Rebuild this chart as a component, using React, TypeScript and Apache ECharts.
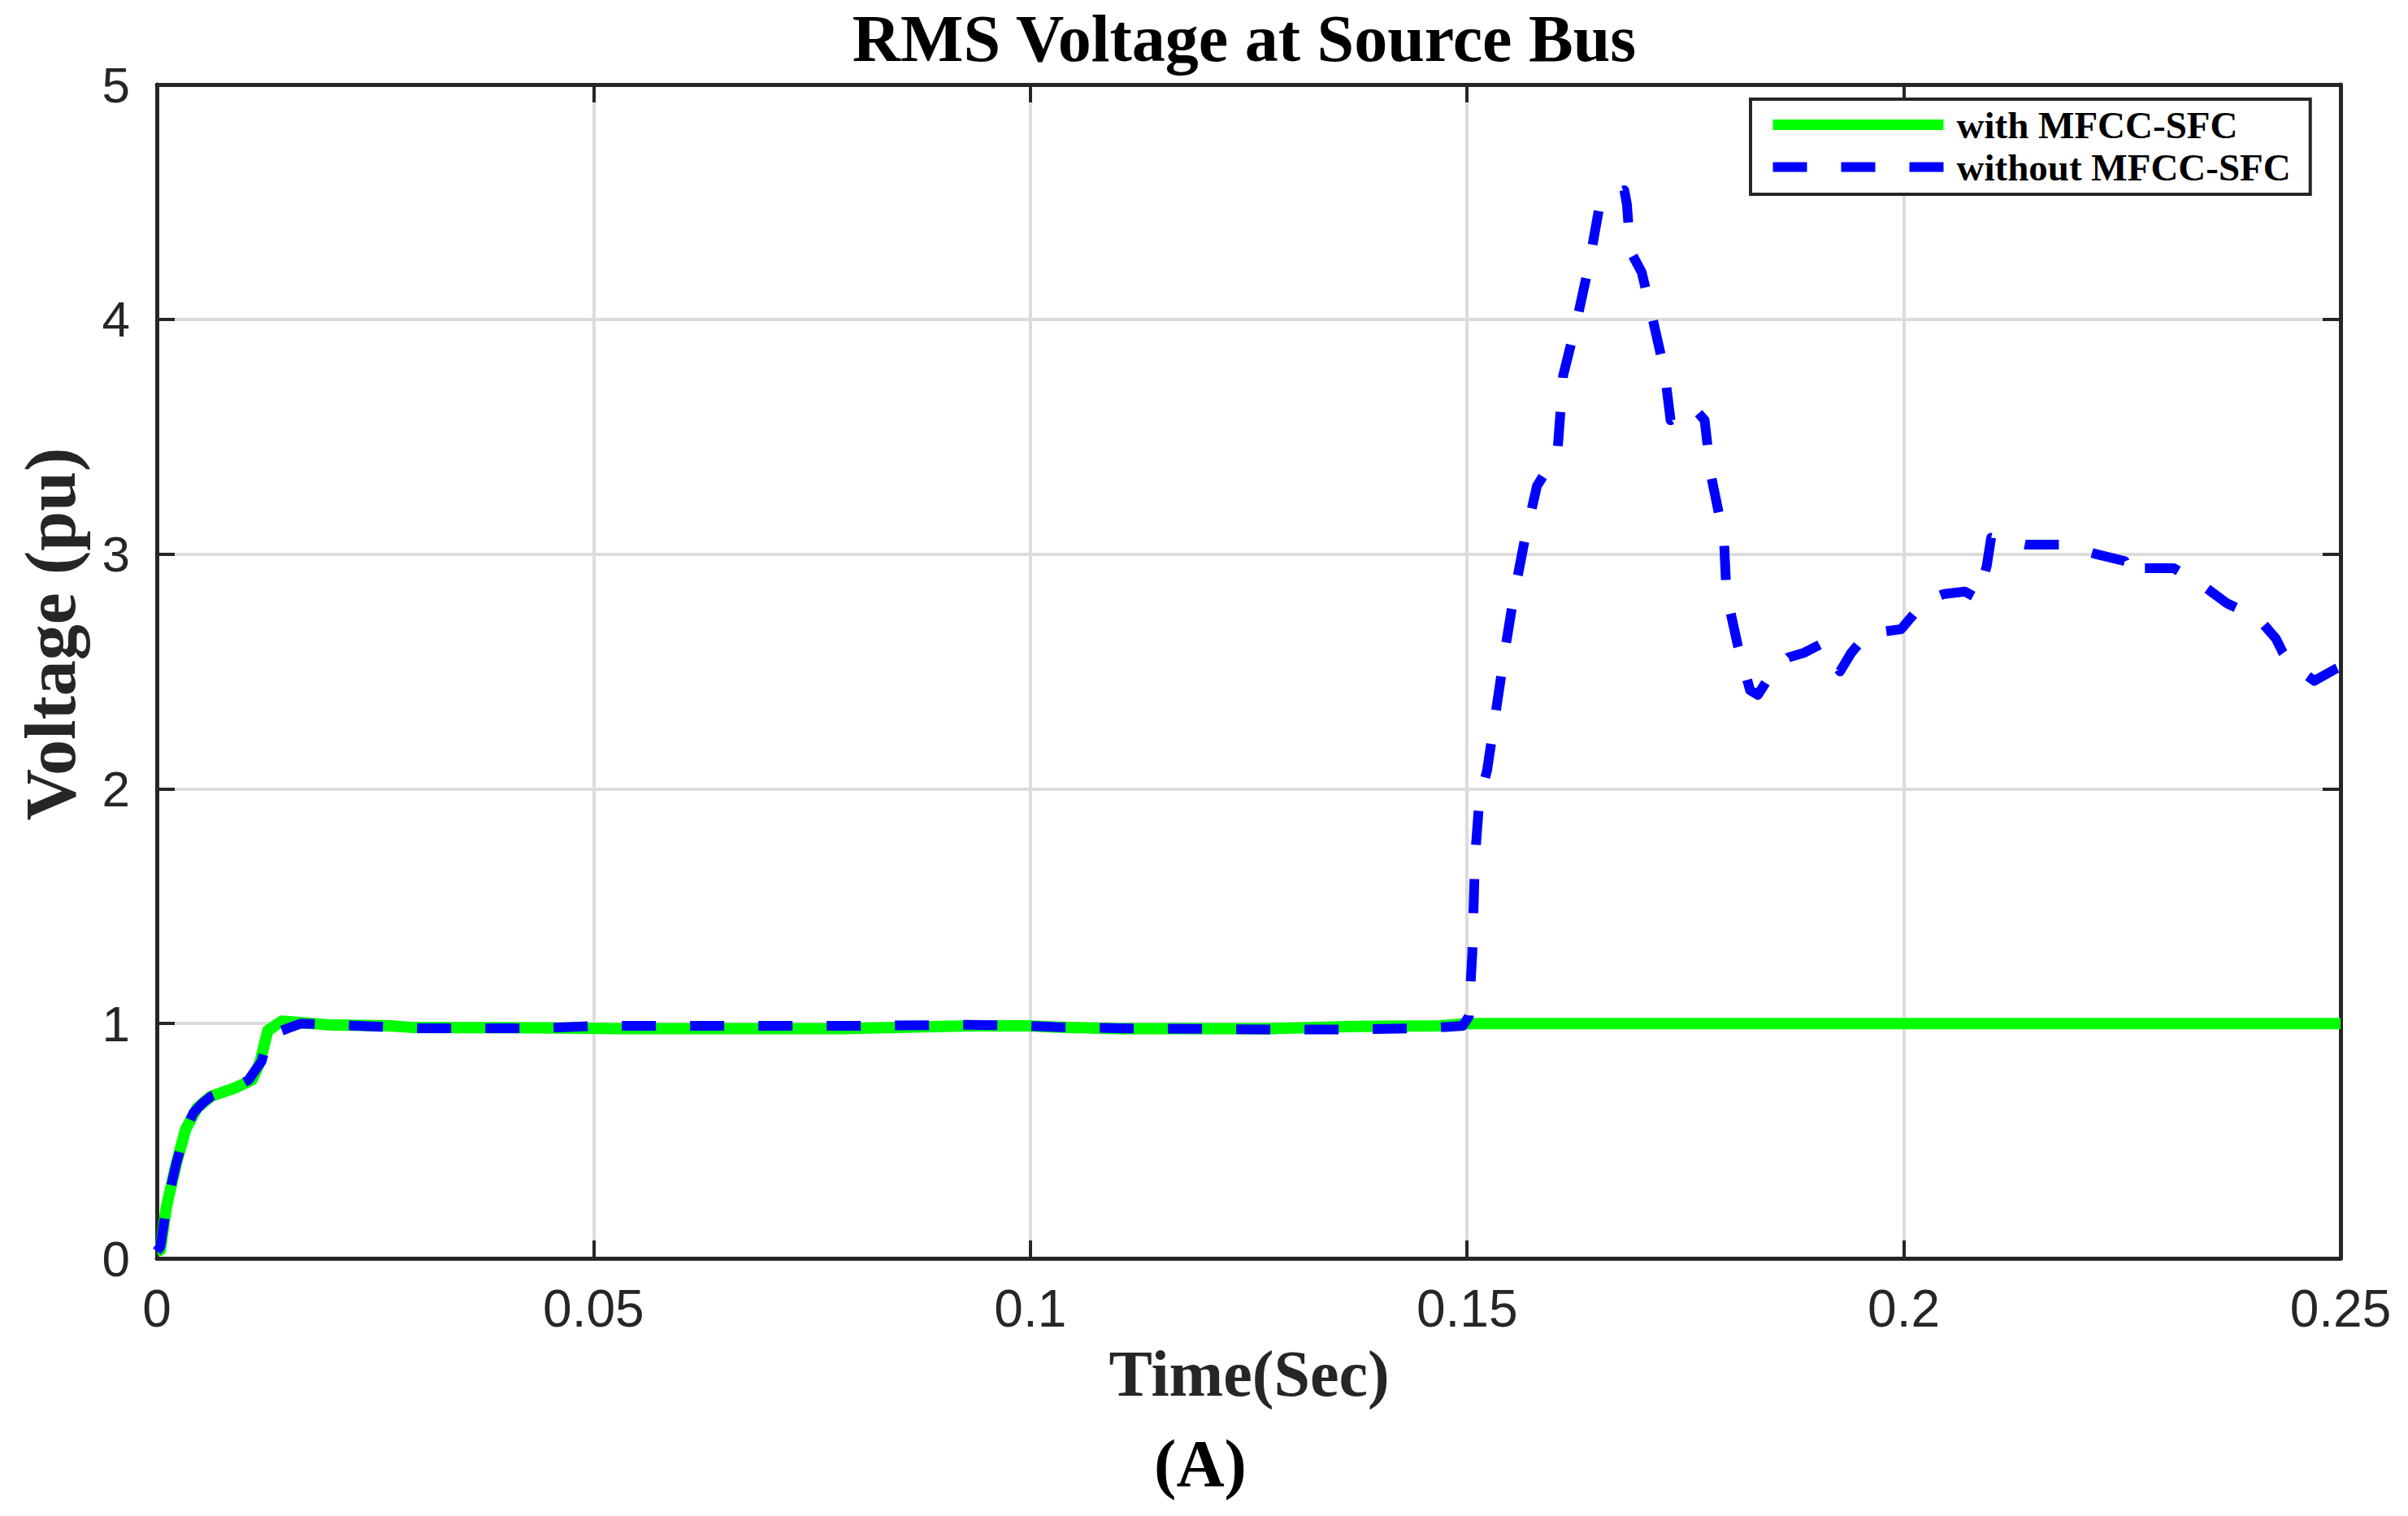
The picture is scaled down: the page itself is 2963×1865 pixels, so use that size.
import React, { useEffect, useRef } from "react";
import * as echarts from "echarts";

const TITLE = "RMS Voltage at Source Bus";
const X_TITLE = "Time(Sec)";
const Y_TITLE = "Voltage (pu)";
const PANEL = "(A)";
const SERIES_WITH = "with MFCC-SFC";
const SERIES_WITHOUT = "without MFCC-SFC";

const xTickLabels = ["0", "0.05", "0.1", "0.15", "0.2", "0.25"];
const yTickLabels = ["0", "1", "2", "3", "4", "5"];

// with MFCC-SFC (green, solid)
const tWith = [
  0, 0.0004, 0.0011, 0.0022, 0.0033, 0.0046, 0.0062, 0.009, 0.0109, 0.0118,
  0.0125, 0.0127, 0.0143, 0.0162, 0.0195, 0.0267, 0.0294, 0.044, 0.0539, 0.0783,
  0.093, 0.1, 0.1028, 0.11, 0.1273, 0.137, 0.1468, 0.15, 0.2, 0.25,
];
const vWith = [
  0.03, 0.035, 0.22, 0.4, 0.55, 0.64, 0.69, 0.727, 0.76, 0.835,
  0.94, 0.97, 1.01, 1.005, 0.995, 0.99, 0.983, 0.982, 0.978, 0.978,
  0.99, 0.99, 0.985, 0.978, 0.978, 0.988, 0.99, 1.0, 1.0, 1.0,
];

// without MFCC-SFC (blue, dashed)
const tWithout = [
  0, 0.0004, 0.0011, 0.0022, 0.0033, 0.0042, 0.0052, 0.0062, 0.009, 0.0105,
  0.012, 0.0128, 0.0165, 0.02, 0.03, 0.044, 0.05, 0.06, 0.08, 0.093,
  0.1, 0.103, 0.11, 0.127, 0.137, 0.145, 0.1495, 0.1502, 0.1506, 0.1509,
  0.1514, 0.1523, 0.1533, 0.1543, 0.1553, 0.1566, 0.158, 0.159, 0.1604, 0.161,
  0.1626, 0.164, 0.1651, 0.1662, 0.168, 0.1683, 0.1687, 0.17, 0.1712, 0.1726,
  0.1733, 0.1747, 0.1758, 0.1772, 0.1779, 0.1794, 0.1797, 0.181, 0.1824, 0.1833,
  0.185, 0.1868, 0.1886, 0.1907, 0.1915, 0.1927, 0.194, 0.1958, 0.1997, 0.2015,
  0.2025, 0.2046, 0.207, 0.2085, 0.2095, 0.21, 0.214, 0.218, 0.222, 0.2253,
  0.2261, 0.2274, 0.2309, 0.2323, 0.2341, 0.237, 0.2405, 0.2426, 0.2434, 0.2444,
  0.247, 0.2494, 0.25,
];
const vWithout = [
  0.03, 0.05, 0.22, 0.4, 0.55, 0.62, 0.66, 0.69, 0.73, 0.76,
  0.84, 0.95, 1.0, 0.995, 0.98, 0.98, 0.99, 0.99, 0.99, 0.995,
  0.99, 0.985, 0.98, 0.975, 0.975, 0.98, 0.99, 1.03, 1.3, 1.7,
  1.95, 2.08, 2.33, 2.58, 2.81, 3.06, 3.29, 3.35, 3.46, 3.76,
  4.0, 4.24, 4.47, 4.53, 4.55, 4.49, 4.29, 4.2, 4.01, 3.78,
  3.57, 3.6, 3.63, 3.57, 3.34, 3.07, 2.83, 2.61, 2.42, 2.4,
  2.5, 2.56, 2.58, 2.62, 2.56, 2.5, 2.58, 2.66, 2.68, 2.76,
  2.8, 2.83, 2.84, 2.81, 2.95, 3.07, 3.04, 3.04, 3.0, 2.97,
  2.9, 2.94, 2.94, 2.91, 2.87, 2.79, 2.73, 2.64, 2.58, 2.53,
  2.46, 2.51, 2.52,
];

const SERIF = "'Liberation Serif', 'Times New Roman', Times, serif";
const SANS = "'Liberation Sans', Arial, Helvetica, sans-serif";
const AXIS_COLOR = "#262626";
const GRID_COLOR = "#dcdcdc";

export default function App() {
  const ref = useRef<HTMLDivElement>(null);

  useEffect(() => {
    if (!ref.current) return;
    const chart = echarts.init(ref.current, null, { renderer: "svg" });

    const axisLine = { show: true, onZero: false, lineStyle: { color: AXIS_COLOR, width: 5 } };
    const axisTick = { show: true, inside: true, length: 22, lineStyle: { color: AXIS_COLOR, width: 4 } };
    const splitLine = { show: true, lineStyle: { color: GRID_COLOR, width: 4 } };

    const option: any = {
      animation: false,
      backgroundColor: "#ffffff",
      grid: { left: 193, right: 83, top: 104, bottom: 317, containLabel: false },
      xAxis: [
        {
          type: "value",
          position: "bottom",
          min: 0,
          max: 0.25,
          interval: 0.05,
          axisLine,
          axisTick,
          splitLine,
          axisLabel: {
            show: true,
            margin: 30,
            fontSize: 64,
            fontFamily: SANS,
            color: AXIS_COLOR,
            formatter: (_v: number, i: number) => xTickLabels[i],
          },
        },
        {
          type: "value",
          position: "top",
          min: 0,
          max: 0.25,
          interval: 0.05,
          axisLine,
          axisTick,
          splitLine: { show: false },
          axisLabel: { show: false },
        },
      ],
      yAxis: [
        {
          type: "value",
          position: "left",
          min: 0,
          max: 5,
          interval: 1,
          axisLine,
          axisTick,
          splitLine,
          axisLabel: {
            show: true,
            margin: 33,
            fontSize: 62,
            fontFamily: SANS,
            color: AXIS_COLOR,
            formatter: (_v: number, i: number) => yTickLabels[i],
          },
        },
        {
          type: "value",
          position: "right",
          min: 0,
          max: 5,
          interval: 1,
          axisLine,
          axisTick,
          splitLine: { show: false },
          axisLabel: { show: false },
        },
      ],
      legend: {
        orient: "vertical",
        left: 2154,
        top: 122,
        padding: [8, 24, 10, 21],
        itemGap: 5,
        itemWidth: 210,
        itemHeight: 14,
        backgroundColor: "#ffffff",
        borderColor: AXIS_COLOR,
        borderWidth: 4,
        borderRadius: 0,
        textStyle: {
          fontFamily: SERIF,
          fontWeight: "bold",
          fontSize: 47,
          color: "#000000",
          padding: [0, 0, 0, 11],
        },
        data: [
          { name: SERIES_WITH, lineStyle: { color: "#00ff00", width: 13, type: "solid" } },
          { name: SERIES_WITHOUT, lineStyle: { color: "#0000ff", width: 12, type: [42, 42] } },
        ],
      },
      graphic: [
        {
          type: "text",
          x: 1531,
          y: 47,
          style: {
            text: TITLE,
            fill: "#000000",
            fontSize: 82,
            fontWeight: "bold",
            fontFamily: SERIF,
            align: "center",
            verticalAlign: "middle",
          },
        },
        {
          type: "text",
          x: 1537,
          y: 1690,
          style: {
            text: X_TITLE,
            fill: AXIS_COLOR,
            fontSize: 80,
            fontWeight: "bold",
            fontFamily: SERIF,
            align: "center",
            verticalAlign: "middle",
          },
        },
        {
          type: "text",
          x: 62,
          y: 780,
          rotation: Math.PI / 2,
          style: {
            text: Y_TITLE,
            fill: AXIS_COLOR,
            fontSize: 88,
            fontWeight: "bold",
            fontFamily: SERIF,
            align: "center",
            verticalAlign: "middle",
          },
        },
        {
          type: "text",
          x: 1477,
          y: 1800,
          style: {
            text: PANEL,
            fill: "#000000",
            fontSize: 82,
            fontWeight: "bold",
            fontFamily: SERIF,
            align: "center",
            verticalAlign: "middle",
          },
        },
      ],
      series: [
        {
          name: SERIES_WITH,
          type: "line",
          xAxisIndex: 0,
          yAxisIndex: 0,
          symbol: "none",
          showSymbol: false,
          data: tWith.map((t, i) => [t, vWith[i]]),
          lineStyle: { color: "#00ff00", width: 14, join: "round" },
          itemStyle: { color: "#00ff00" },
          z: 3,
        },
        {
          name: SERIES_WITHOUT,
          type: "line",
          xAxisIndex: 0,
          yAxisIndex: 0,
          symbol: "none",
          showSymbol: false,
          data: tWithout.map((t, i) => [t, vWithout[i]]),
          lineStyle: { color: "#0000ff", width: 12, type: [42, 42], join: "round" },
          itemStyle: { color: "#0000ff" },
          z: 4,
        },
      ],
    };

    chart.setOption(option);
    return () => chart.dispose();
  }, []);

  return (
    <div
      ref={ref}
      style={{ position: "absolute", left: 0, top: 0, width: 2963, height: 1865, background: "#fff" }}
    />
  );
}
